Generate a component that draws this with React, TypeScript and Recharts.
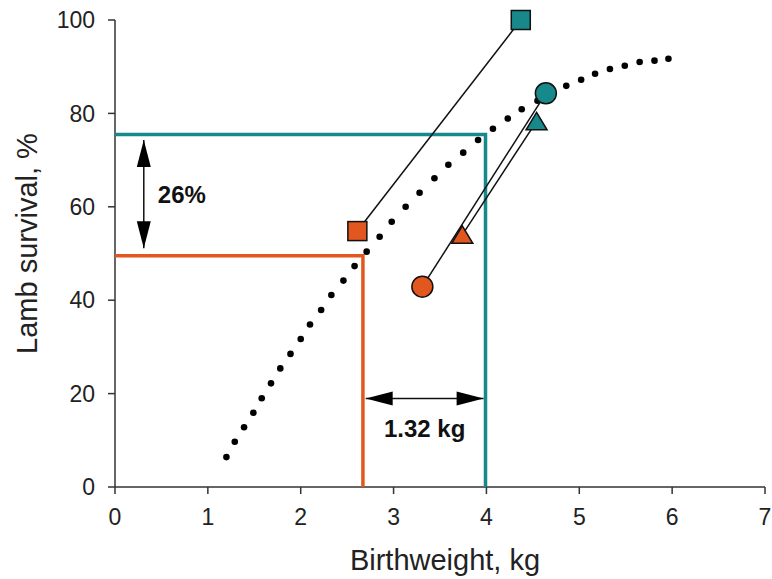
import { ScatterChart, Scatter, XAxis, YAxis, ReferenceLine, Cell } from "recharts";

const xTicks = [0, 1, 2, 3, 4, 5, 6, 7];
const yTicks = [0, 20, 40, 60, 80, 100];

// dotted survival curve, one value per dot
const curveX = [1.2, 1.29, 1.39, 1.49, 1.58, 1.68, 1.78, 1.89, 2.0, 2.1, 2.22, 2.33, 2.46, 2.58, 2.71, 2.85, 2.98, 3.13, 3.28, 3.44, 3.59, 3.75, 3.91, 4.07, 4.23, 4.38, 4.55, 4.7, 4.86, 5.02, 5.17, 5.33, 5.49, 5.65, 5.81, 5.96];
const curveY = [6.4, 9.7, 12.8, 15.9, 19.0, 22.2, 25.4, 28.5, 31.7, 34.8, 37.9, 41.1, 44.2, 47.3, 50.4, 53.6, 56.8, 60.0, 63.0, 66.1, 69.0, 71.6, 74.3, 76.7, 78.9, 80.9, 82.7, 84.4, 85.9, 87.2, 88.5, 89.5, 90.2, 91.0, 91.3, 91.7];

// pairs: [orange, teal]
const squareX = [2.61, 4.37];
const squareY = [54.8, 100];
const circleX = [3.31, 4.64];
const circleY = [42.9, 84.3];
const triangleX = [3.74, 4.54];
const triangleY = [54.0, 78.3];

// guide lines
const lowGuideX = [0, 2.67, 2.67];
const lowGuideY = [49.5, 49.5, 0];
const highGuideX = [0, 3.99, 3.99];
const highGuideY = [75.5, 75.5, 0];

// double arrows
const survivalGapX = [0.31, 0.31];
const survivalGapY = [74.3, 51.1];
const weightGapX = [2.7, 3.97];
const weightGapY = [18.95, 18.95];

const ORANGE = "#E2571F";
const TEAL = "#17898B";
const AXIS = "#333";
const TICK_FONT = 23;

const toPoints = (xs: number[], ys: number[]) => xs.map((x, i) => ({ x, y: ys[i] }));

const Empty = () => <g />;

const Dot = (p: any) => <circle cx={p.cx} cy={p.cy} r={3.3} fill="#000" />;

const Square = (p: any) => (
  <rect x={p.cx - 9.5} y={p.cy - 9.5} width={19} height={19} fill={p.fill} stroke="#111" strokeWidth={1.5} />
);

const Round = (p: any) => <circle cx={p.cx} cy={p.cy} r={10.5} fill={p.fill} stroke="#111" strokeWidth={1.5} />;

const Triangle = (p: any) => (
  <polygon
    points={`${p.cx},${p.cy - 9} ${p.cx + 10.5},${p.cy + 8.5} ${p.cx - 10.5},${p.cy + 8.5}`}
    fill={p.fill}
    stroke="#111"
    strokeWidth={1.5}
  />
);

const XTick = (p: any) => (
  <text x={p.x} y={p.y} dy="0.71em" textAnchor="middle" fontSize={TICK_FONT} fill="#222">
    {p.payload.value}
  </text>
);

const YTick = (p: any) => (
  <text x={p.x} y={p.y} dy="0.355em" textAnchor="end" fontSize={TICK_FONT} fill="#222">
    {p.payload.value}
  </text>
);

const DoubleArrow = (p: any) => {
  const { x1, y1, x2, y2 } = p;
  const len = Math.hypot(x2 - x1, y2 - y1) || 1;
  const ux = (x2 - x1) / len;
  const uy = (y2 - y1) / len;
  const hl = 27;
  const hw = 7;
  const head = (tx: number, ty: number, sx: number, sy: number) =>
    `${tx},${ty} ${tx - sx * hl - sy * hw},${ty - sy * hl + sx * hw} ${tx - sx * hl + sy * hw},${ty - sy * hl - sx * hw}`;
  return (
    <g>
      <line x1={x1} y1={y1} x2={x2} y2={y2} stroke="#111" strokeWidth={1.5} />
      <polygon points={head(x2, y2, ux, uy)} fill="#000" />
      <polygon points={head(x1, y1, -ux, -uy)} fill="#000" />
    </g>
  );
};

const pairLine = { stroke: "#111", strokeWidth: 1.5, fill: "none" };

export default function App() {
  return (
    <div style={{ position: "absolute", left: 0, top: 0, fontFamily: "'Liberation Sans', Arial, sans-serif" }}>
      <ScatterChart width={772} height={579} margin={{ top: 20, right: 7, bottom: 0, left: 0 }}>
        <XAxis
          type="number"
          dataKey="x"
          domain={[0, 7]}
          ticks={xTicks}
          height={92}
          tickSize={7}
          tickMargin={15}
          stroke={AXIS}
          strokeWidth={1.5}
          tick={XTick}
          label={{
            content: (props: any) => {
              const vb = props.viewBox;
              return (
                <text x={vb.x + vb.width / 2 + 5} y={vb.y + 83} textAnchor="middle" fontSize={29} fill="#222">
                  Birthweight, kg
                </text>
              );
            },
          }}
        />
        <YAxis
          type="number"
          dataKey="y"
          domain={[0, 100]}
          ticks={yTicks}
          width={115}
          tickSize={7}
          tickMargin={13}
          stroke={AXIS}
          strokeWidth={1.5}
          tick={YTick}
          label={{
            content: (props: any) => {
              const vb = props.viewBox;
              const x = vb.x + 37;
              const y = vb.y + vb.height / 2 - 10;
              return (
                <text x={x} y={y} transform={`rotate(-90, ${x}, ${y})`} textAnchor="middle" fontSize={29} fill="#222">
                  Lamb survival, %
                </text>
              );
            },
          }}
        />
        <Scatter data={toPoints(lowGuideX, lowGuideY)} line={{ stroke: ORANGE, strokeWidth: 3.5, fill: "none" }} shape={Empty} isAnimationActive={false} />
        <Scatter data={toPoints(highGuideX, highGuideY)} line={{ stroke: TEAL, strokeWidth: 3.5, fill: "none" }} shape={Empty} isAnimationActive={false} />
        <Scatter data={toPoints(curveX, curveY)} shape={Dot} isAnimationActive={false} />
        <ReferenceLine
          segment={toPoints(survivalGapX, survivalGapY)}
          shape={DoubleArrow}
          label={{ value: "26%", position: "right", offset: 14, fontSize: 24, fontWeight: "bold", fill: "#111" }}
        />
        <ReferenceLine
          segment={toPoints(weightGapX, weightGapY)}
          shape={DoubleArrow}
          label={{ value: "1.32 kg", position: "bottom", offset: 21, fontSize: 24, fontWeight: "bold", fill: "#111" }}
        />
        <Scatter data={toPoints(squareX, squareY)} line={pairLine} shape={Square} isAnimationActive={false}>
          <Cell fill={ORANGE} />
          <Cell fill={TEAL} />
        </Scatter>
        <Scatter data={toPoints(circleX, circleY)} line={pairLine} shape={Round} isAnimationActive={false}>
          <Cell fill={ORANGE} />
          <Cell fill={TEAL} />
        </Scatter>
        <Scatter data={toPoints(triangleX, triangleY)} line={pairLine} shape={Triangle} isAnimationActive={false}>
          <Cell fill={ORANGE} />
          <Cell fill={TEAL} />
        </Scatter>
      </ScatterChart>
    </div>
  );
}
